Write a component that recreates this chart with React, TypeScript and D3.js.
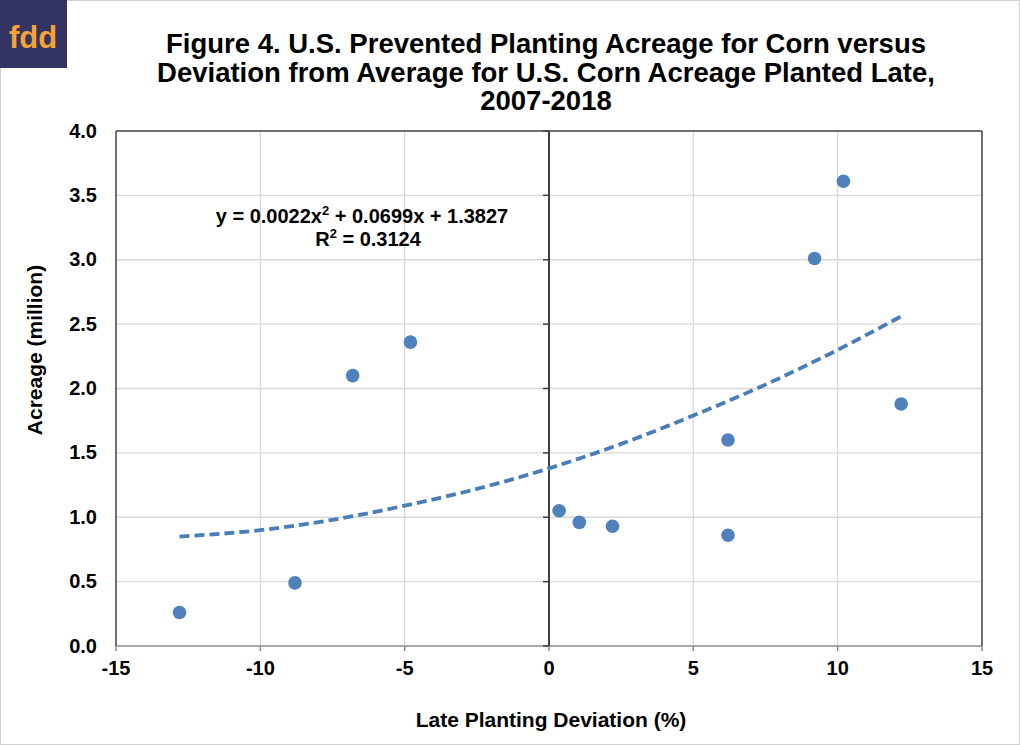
import { scaleLinear, line as d3line, curveMonotoneX } from "d3";

const deviation = [-12.8, -8.8, -6.8, -4.8, 0.35, 1.05, 2.2, 6.2, 6.2, 9.2, 10.2, 12.2];
const acreage = [0.26, 0.49, 2.1, 2.36, 1.05, 0.96, 0.93, 1.6, 0.86, 3.01, 3.61, 1.88];

// trend line
const trendX = [-12.8, -10, -7.5, -5, -2.5, 0, 2.5, 5, 7.5, 10, 12.2];
const trendY = [0.85, 0.9, 0.98, 1.09, 1.22, 1.38, 1.57, 1.79, 2.03, 2.3, 2.56];

const xTicks = [-15, -10, -5, 0, 5, 10, 15];
const yTicks = [0, 0.5, 1, 1.5, 2, 2.5, 3, 3.5, 4];

const titleLines = [
  "Figure 4. U.S. Prevented Planting Acreage for Corn versus",
  "Deviation from Average for U.S. Corn Acreage Planted Late,",
  "2007-2018",
];

const W = 1020;
const H = 745;
const left = 116;
const right = 982;
const top = 131;
const bottom = 646;
const font = "'Liberation Sans', Arial, sans-serif";
const blue = "#4f81bd";

export default function App() {
  const x = scaleLinear().domain([-15, 15]).range([left, right]);
  const y = scaleLinear().domain([0, 4]).range([bottom, top]);

  const trend = d3line<number>()
    .x((_, i) => x(trendX[i]))
    .y((d) => y(d))
    .curve(curveMonotoneX);

  return (
    <div style={{ position: "absolute", left: 0, top: 0 }}>
      <svg width={W} height={H} style={{ display: "block", fontFamily: font }}>
        <rect x={0.5} y={0.5} width={W - 1} height={H - 1} fill="#fff" stroke="#d0d0d0" />

        {/* logo */}
        <rect x={0} y={0} width={67} height={68} fill="#333462" />
        <text x={33} y={48} textAnchor="middle" fontSize={31} fontWeight="bold" fill="#f7a234">
          fdd
        </text>

        {titleLines.map((t, i) => (
          <text key={t} x={546} y={53 + i * 28.5} textAnchor="middle" fontSize={27.5} fontWeight="bold" fill="#000">
            {t}
          </text>
        ))}

        {/* grid */}
        {xTicks.filter((t) => t !== -15 && t !== 0 && t !== 15).map((t) => (
          <line key={"gx" + t} x1={x(t)} x2={x(t)} y1={top} y2={bottom} stroke="#d9d9d9" strokeWidth={1.3} />
        ))}
        {yTicks.filter((t) => t !== 0 && t !== 4).map((t) => (
          <line key={"gy" + t} x1={left} x2={right} y1={y(t)} y2={y(t)} stroke="#d9d9d9" strokeWidth={1.3} />
        ))}

        {/* plot border */}
        <line x1={left} x2={right} y1={top} y2={top} stroke="#404040" strokeWidth={1.5} />
        <line x1={left} x2={left} y1={top} y2={bottom} stroke="#404040" strokeWidth={1.5} />
        <line x1={right} x2={right} y1={top} y2={bottom} stroke="#404040" strokeWidth={1.5} />
        <line x1={left} x2={right} y1={bottom} y2={bottom} stroke="#8c8c8c" strokeWidth={1.5} />

        {/* vertical axis at zero */}
        <line x1={x(0)} x2={x(0)} y1={top} y2={bottom} stroke="#404040" strokeWidth={2} />
        {yTicks.map((t) => (
          <line key={"yt" + t} x1={x(0) - 6} x2={x(0)} y1={y(t)} y2={y(t)} stroke="#404040" strokeWidth={1.5} />
        ))}
        {xTicks.map((t) => (
          <line key={"xt" + t} x1={x(t)} x2={x(t)} y1={bottom} y2={bottom + 5} stroke="#8c8c8c" strokeWidth={1.5} />
        ))}

        {/* tick labels */}
        {yTicks.map((t) => (
          <text key={"yl" + t} x={97} y={y(t)} dy="0.33em" textAnchor="end" fontSize={20} fontWeight="bold" fill="#000">
            {t.toFixed(1)}
          </text>
        ))}
        {xTicks.map((t) => (
          <text key={"xl" + t} x={x(t)} y={675} textAnchor="middle" fontSize={20} fontWeight="bold" fill="#000">
            {t}
          </text>
        ))}

        {/* axis titles */}
        <text x={551} y={727} textAnchor="middle" fontSize={21} fontWeight="bold" fill="#000">
          Late Planting Deviation (%)
        </text>
        <text
          transform="translate(42,350) rotate(-90)"
          textAnchor="middle"
          fontSize={21}
          fontWeight="bold"
          fill="#000"
        >
          Acreage (million)
        </text>

        {/* trend */}
        <path
          d={trend(trendY) ?? undefined}
          fill="none"
          stroke="#4a7ebb"
          strokeWidth={3.8}
          strokeDasharray="10 5"
        />

        {/* points */}
        {deviation.map((d, i) => (
          <circle key={i} cx={x(d)} cy={y(acreage[i])} r={6.8} fill={blue} />
        ))}

        {/* equation */}
        <text x={362} y={223} textAnchor="middle" fontSize={20} fontWeight="bold" fill="#000">
          y = 0.0022x<tspan fontSize={13} dy={-8}>2</tspan>
          <tspan dy={8}> + 0.0699x + 1.3827</tspan>
        </text>
        <text x={368} y={246} textAnchor="middle" fontSize={20} fontWeight="bold" fill="#000">
          R<tspan fontSize={13} dy={-8}>2</tspan>
          <tspan dy={8}> = 0.3124</tspan>
        </text>
      </svg>
    </div>
  );
}
